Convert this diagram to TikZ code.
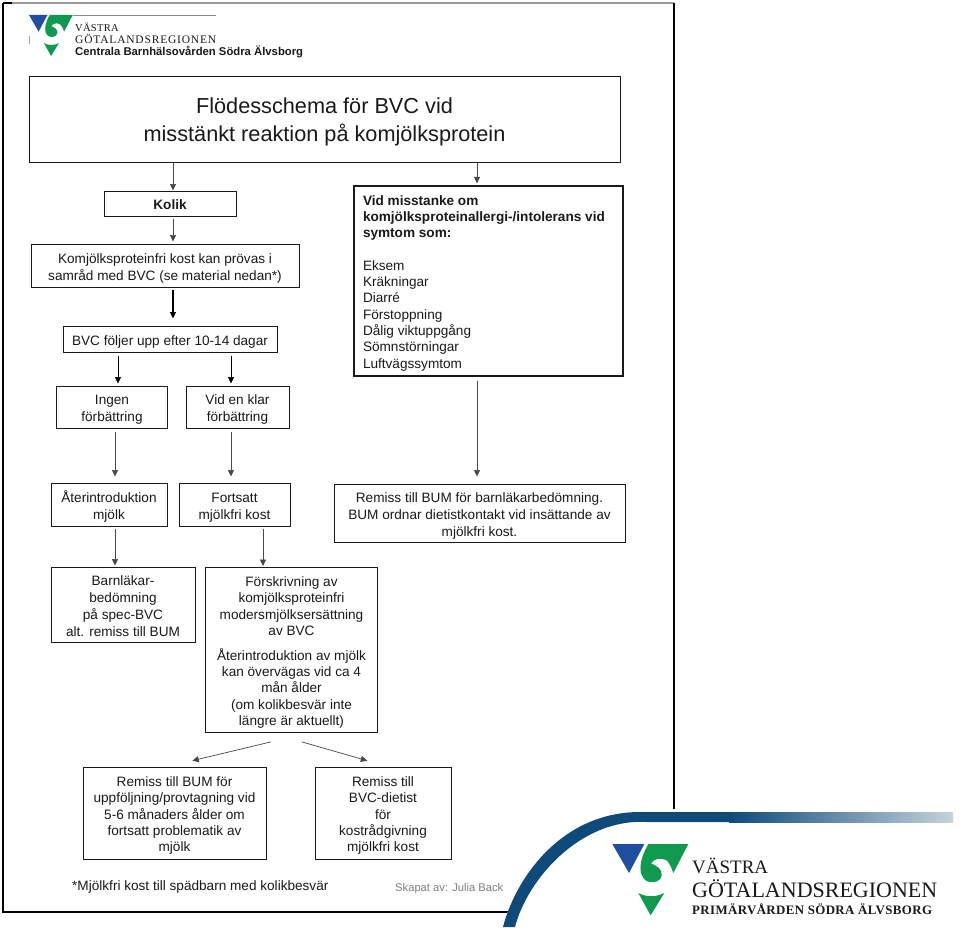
\documentclass[tikz,border=0pt]{standalone}
\usepackage{fontspec}
\setmainfont{Liberation Sans}
\newfontfamily\logoA[LetterSpace=3]{Liberation Serif}
\newfontfamily\logoD[LetterSpace=7]{Liberation Serif}
\newfontfamily\logoE{Liberation Serif}
\usetikzlibrary{arrows.meta}
\definecolor{vgblue}{HTML}{1F4FA0}
\definecolor{vggreen}{HTML}{109A50}
\definecolor{band}{HTML}{0E4A7A}
\definecolor{bandlight}{HTML}{C5D3DC}
\definecolor{ink}{HTML}{1A1A1A}
\newcommand{\tp}{\rule{0pt}{15pt}}
\newcommand{\bt}{\rule[-3pt]{0pt}{3pt}}
\tikzset{
  box/.style={draw=ink,line width=1pt,align=center,inner sep=0pt,text=ink,
    font=\fontsize{13.6}{16.4}\selectfont},
  tallbox/.style={box,font=\fontsize{13.6}{17}\selectfont},
  arr/.style={draw=ink!80,line width=.7pt,-{Stealth[length=6.5pt,width=6pt,inset=0pt]}},
  frameline/.style={draw=black,line width=1.2pt},
  plain/.style={anchor=base west,inner sep=0pt,text=ink},
}
\newcommand{\vgrlogo}[3]{%
  \begin{scope}[shift={(#1,#2)},x=#3pt,y=-#3pt]
    \fill[vgblue] (22,18) -- (118,18) -- (72,105) -- cycle;
    \fill[vggreen] (130,18) -- (250,18) -- (205,105)
      .. controls (198,85) and (192,72) .. (183,66)
      .. controls (165,58) and (148,62) .. (138,76)
      .. controls (155,84) and (172,92) .. (170,112)
      .. controls (168,124) and (160,130) .. (148,132)
      .. controls (112,140) and (85,95) .. (130,18) -- cycle;
    \fill[vggreen] (100,165) .. controls (125,178) and (152,178) .. (178,165) -- (137,232) -- cycle;
  \end{scope}}
\begin{document}
\begin{tikzpicture}[x=1pt,y=-1pt]
\useasboundingbox (0,0) rectangle (960,930);
\fill[white] (0,0) rectangle (960,930);
% page frame
\coordinate (pf1) at (3,3);
\coordinate (pf2) at (3,912);
\coordinate (pf3) at (520,912);
\coordinate (pf4) at (674,3);
\coordinate (pf5) at (674,809);
\coordinate (pf6) at (12,3);
\draw[draw=black!40,line width=1.2pt] (pf6) -- (pf4);
\draw[frameline] (pf1) -- (pf6);
\draw[frameline] (pf1) -- (pf2) -- (pf3);
\draw[frameline] (pf4) -- (pf5);
% header logo
\coordinate (hl1) at (73,15);
\coordinate (hl2) at (216,15);
\coordinate (hl3) at (29.5,36);
\coordinate (hl4) at (29.5,44);
\draw[black!45,line width=.7pt] (hl1) -- (hl2);
\draw[black!35,line width=.6pt] (hl3) -- (hl4);
\vgrlogo{24.8}{11.5}{0.1917}
\node[plain,font=\logoA\fontsize{10.5}{12}\selectfont] (h1) at (75,31) {VÄSTRA};
\node[plain,font=\logoD\fontsize{11.5}{12}\selectfont] (h2) at (75,43) {GÖTALANDSREGIONEN};
\node[plain,font=\fontsize{11.3}{12}\selectfont] (h3) at (75,55) {\textbf{Centrala Barnhälsovården Södra Älvsborg}};
% boxes
\node[box,minimum width=591pt,minimum height=86pt,font=\fontsize{21.7}{28}\selectfont] (title) at (324.5,119) {\rule{0pt}{22pt}Flödesschema för BVC vid\\misstänkt reaktion på komjölksprotein\rule[-4pt]{0pt}{4pt}};
\node[box,minimum width=132pt,minimum height=25pt] (kolik) at (170,203.5) {\tp\textbf{Kolik}\bt};
\node[tallbox,minimum width=268pt,minimum height=43pt] (komj) at (165,265.5) {\tp Komjölksproteinfri kost kan prövas i\\samråd med BVC (se material nedan*)\bt};
\node[box,minimum width=214pt,minimum height=26pt] (foljer) at (170,339) {\tp BVC följer upp efter 10-14 dagar\bt};
\node[tallbox,minimum width=111pt,minimum height=42pt] (ingen) at (112,407) {\tp Ingen\\förbättring\bt};
\node[tallbox,minimum width=103pt,minimum height=42pt] (klar) at (237.5,407) {\tp Vid en klar\\förbättring\bt};
\node[tallbox,minimum width=116pt,minimum height=43pt] (ater) at (109,504.5) {\tp Återintroduktion\\mjölk\bt};
\node[tallbox,minimum width=111pt,minimum height=43pt] (forts) at (234.5,504.5) {\tp Fortsatt\\mjölkfri kost\bt};
\node[tallbox,minimum width=144pt,minimum height=75pt] (barn) at (123,604.5) {\tp Barnläkar-\\bedömning\\på spec-BVC\\alt. remiss till BUM\bt};
\node[box,minimum width=172pt,minimum height=165pt] (forskr) at (291.5,650) {\tp Förskrivning av\\komjölksproteinfri\\modersmjölksersättning\\av BVC\\[8pt]Återintroduktion av mjölk\\kan övervägas vid ca 4\\mån ålder\\(om kolikbesvär inte\\längre är aktuellt)\bt};
\node[box,minimum width=183pt,minimum height=92pt] (bum) at (174.5,813) {\tp Remiss till BUM för\\uppföljning/provtagning vid\\5-6 månaders ålder om\\fortsatt problematik av\\mjölk\bt};
\node[box,minimum width=136pt,minimum height=92pt] (diet) at (383,813) {\tp Remiss till\\BVC-dietist\\för\\kostrådgivning\\mjölkfri kost\bt};
\node[box,line width=1.3pt,minimum width=269pt,minimum height=190pt] (vid) at (488.5,281) {\begin{minipage}{251pt}\vspace*{4pt}\fontsize{13.6}{16.3}\selectfont\textbf{Vid misstanke om}\\\textbf{komjölksproteinallergi-/intolerans vid}\\\textbf{symtom som:}\\[16.3pt]Eksem\\Kräkningar\\Diarré\\Förstoppning\\Dålig viktuppgång\\Sömnstörningar\\Luftvägssymtom\end{minipage}};
\node[tallbox,minimum width=291pt,minimum height=58pt] (rem) at (479.5,513) {\tp Remiss till BUM för barnläkarbedömning.\\BUM ordnar dietistkontakt vid insättande av\\mjölkfri kost.\bt};
\node[plain,font=\fontsize{13.6}{15}\selectfont] (fot) at (72,890) {*Mjölkfri kost till spädbarn med kolikbesvär};
\node[plain,font=\fontsize{11.2}{12}\selectfont,text=black!50] (skap) at (395,891) {Skapat av: Julia Back};
% connectors
\draw[arr] ([xshift=3]kolik.north |- title.south) -- ([xshift=3]kolik.north);
\draw[arr,shorten <=2pt,shorten >=2pt] ([xshift=3]kolik.south) -- ([xshift=3]kolik.south |- komj.north);
\draw[arr,draw=black,line width=1.2pt,shorten <=2pt,shorten >=7pt] ([xshift=8]komj.south) -- ([xshift=8]komj.south |- foljer.north);
\draw[arr,draw=black,shorten <=3pt,shorten >=2pt] ([xshift=6]ingen.north |- foljer.south) -- ([xshift=6]ingen.north);
\draw[arr,draw=black,shorten <=3pt,shorten >=2pt] ([xshift=-6.5]klar.north |- foljer.south) -- ([xshift=-6.5]klar.north);
\draw[arr,shorten <=3pt,shorten >=6pt] ([xshift=3]ingen.south) -- ([xshift=3]ingen.south |- ater.north);
\draw[arr,shorten <=3pt,shorten >=6pt] ([xshift=-6.5]klar.south) -- ([xshift=-6.5]klar.south |- forts.north);
\draw[arr,shorten <=2pt,shorten >=1pt] ([xshift=6]ater.south) -- ([xshift=6]ater.south |- barn.north);
\draw[arr,shorten <=2pt,shorten >=1pt] ([xshift=-28.5]forskr.north |- forts.south) -- ([xshift=-28.5]forskr.north);
\draw[arr,shorten >=2pt] ([xshift=-11.5]vid.north |- title.south) -- ([xshift=-11.5]vid.north);
\draw[arr,shorten <=4pt,shorten >=7pt] ([xshift=-2.5]rem.north |- vid.south) -- ([xshift=-2.5]rem.north);
\draw[arr,shorten <=38pt,shorten >=25pt] ([xshift=16.5]forskr.south) -- ([xshift=-6.5]bum.north);
\draw[arr,shorten <=32pt,shorten >=21pt] ([xshift=-20.5]forskr.south) -- ([xshift=4.5]diet.north);
% corner band
\fill[white] (503,927) .. controls (515,880) and (560,812) .. (640,812) -- (960,812) -- (960,930) -- (503,930) -- cycle;
\fill[band] (503,927) .. controls (515,880) and (560,812) .. (640,812) -- (730,812) -- (730,822) -- (647,822)
  .. controls (580,818) and (527,880) .. (515,927) -- cycle;
\shade[left color=band,right color=bandlight] (729,812) rectangle (953,822);
% big logo
\vgrlogo{605}{838}{0.3333}
\node[plain,font=\logoE\fontsize{19}{22}\selectfont] (l1) at (692,873) {VÄSTRA};
\node[plain,font=\logoE\fontsize{22}{24}\selectfont] (l2) at (692,897) {GÖTALANDSREGIONEN};
\node[plain,font=\logoA\fontsize{12.9}{14}\selectfont] (l3) at (692,914) {\textbf{PRIMÄRVÅRDEN SÖDRA ÄLVSBORG}};
\end{tikzpicture}
\end{document}
